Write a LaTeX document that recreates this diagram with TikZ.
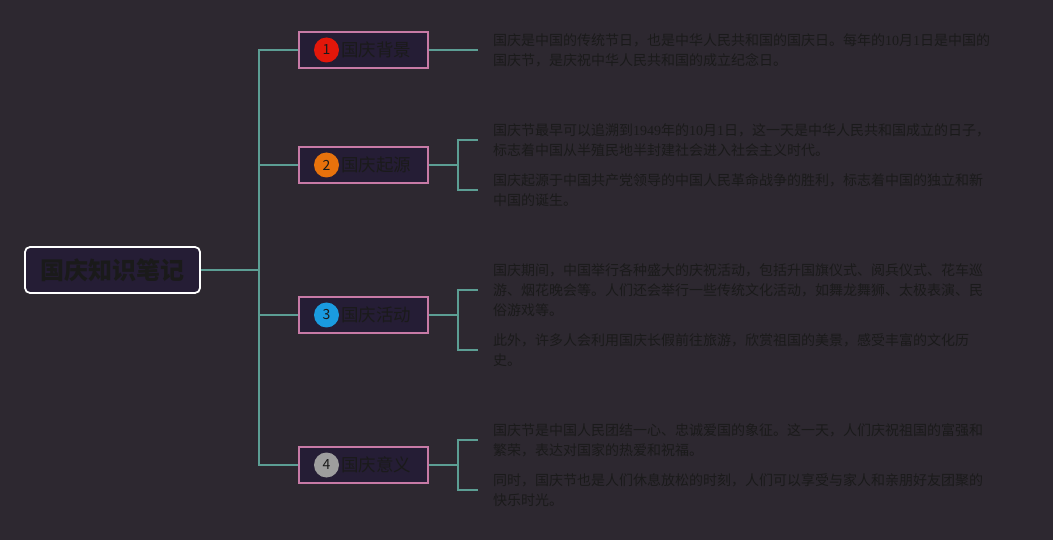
\documentclass[tikz,border=0pt]{standalone}
\usepackage{fontspec}
\newfontfamily\cjk{Noto Sans CJK SC}
\newfontfamily\digits{Liberation Serif}
\begin{document}
\begin{tikzpicture}[x=1pt,y=-1pt,
    link/.style={line width=1.6pt, draw=lk},
    rootbox/.style={draw=white, line width=1.8pt, fill=bx, rounded corners=5pt,
        minimum width=175pt, minimum height=46pt, inner sep=0pt, text=tx,
        font=\cjk\bfseries\fontsize{24}{24}\selectfont},
    topicbox/.style={draw=pk, line width=1.6pt, fill=bx, minimum width=129pt, minimum height=36pt},
    badge/.style={circle, minimum size=25pt, inner sep=0pt, text=tx, font=\cjk\fontsize{14}{14}\selectfont},
    topic/.style={anchor=west, inner sep=0pt, text=tx, font=\cjk\fontsize{17.5}{17.5}\selectfont},
    leaf/.style={anchor=west, inner xsep=15pt, inner ysep=0pt, align=left, text=tx,
        font=\cjk\fontsize{14}{20}\selectfont}]
            \definecolor{bg}{HTML}{2D2830}
            \definecolor{bx}{HTML}{251D35}
            \definecolor{tx}{HTML}{1A1A1A}
            \definecolor{lk}{HTML}{5C9E94}
            \definecolor{pk}{HTML}{C77AA6}
            \definecolor{cl1}{HTML}{E3170A}
            \definecolor{cl2}{HTML}{E8720C}
            \definecolor{cl3}{HTML}{1A9BE0}
            \definecolor{cl4}{HTML}{9E9E9E}
            \fill[bg] (0,0) rectangle (1053,540);
            % root and trunk
            \node[rootbox] (root) at (112.5,270) {国庆知识笔记};
            \coordinate (fork) at (259,270);
            \draw[link] (root) -- (fork);
            % topics
            \node[topicbox] (t1) at (363.5,50) {};
            \node[topicbox] (t2) at (363.5,165) {};
            \node[topicbox] (t3) at (363.5,315) {};
            \node[topicbox] (t4) at (363.5,465) {};
            \node[badge, fill=cl1] (b1) at (326.5,50) {1};
            \node[badge, fill=cl2] (b2) at (326.5,165) {2};
            \node[badge, fill=cl3] (b3) at (326.5,315) {3};
            \node[badge, fill=cl4] (b4) at (326.5,465) {4};
            \node[topic] (n1) at (341,50) {国庆背景};
            \node[topic] (n2) at (341,165) {国庆起源};
            \node[topic] (n3) at (341,315) {国庆活动};
            \node[topic] (n4) at (341,465) {国庆意义};
            \draw[link] (fork) |- (t1.west);
            \draw[link] (fork) |- (t2.west);
            \draw[link] (fork) |- (t3.west);
            \draw[link] (fork) |- (t4.west);
            % leaves
            \node[leaf] (l1) at (478,50) {国庆是中国的传统节日，也是中华人民共和国的国庆日。每年的{\digits 10}月{\digits 1}日是中国的\\国庆节，是庆祝中华人民共和国的成立纪念日。};
            \node[leaf] (l2a) at (478,140) {国庆节最早可以追溯到{\digits 1949}年的{\digits 10}月{\digits 1}日，这一天是中华人民共和国成立的日子，\\标志着中国从半殖民地半封建社会进入社会主义时代。};
            \node[leaf] (l2b) at (478,190) {国庆起源于中国共产党领导的中国人民革命战争的胜利，标志着中国的独立和新\\中国的诞生。};
            \node[leaf] (l3a) at (478,290) {国庆期间，中国举行各种盛大的庆祝活动，包括升国旗仪式、阅兵仪式、花车巡\\游、烟花晚会等。人们还会举行一些传统文化活动，如舞龙舞狮、太极表演、民\\俗游戏等。};
            \node[leaf] (l3b) at (478,350) {此外，许多人会利用国庆长假前往旅游，欣赏祖国的美景，感受丰富的文化历\\史。};
            \node[leaf] (l4a) at (478,440) {国庆节是中国人民团结一心、忠诚爱国的象征。这一天，人们庆祝祖国的富强和\\繁荣，表达对国家的热爱和祝福。};
            \node[leaf] (l4b) at (478,490) {同时，国庆节也是人们休息放松的时刻，人们可以享受与家人和亲朋好友团聚的\\快乐时光。};
            \coordinate (s2) at (458,165);
            \coordinate (s3) at (458,315);
            \coordinate (s4) at (458,465);
            \draw[link] (t1) -- (l1.west);
            \draw[link] (t2) -- (s2);
            \draw[link] (s2) |- (l2a.west);
            \draw[link] (s2) |- (l2b.west);
            \draw[link] (t3) -- (s3);
            \draw[link] (s3) |- (l3a.west);
            \draw[link] (s3) |- (l3b.west);
            \draw[link] (t4) -- (s4);
            \draw[link] (s4) |- (l4a.west);
            \draw[link] (s4) |- (l4b.west);
\end{tikzpicture}
\end{document}
